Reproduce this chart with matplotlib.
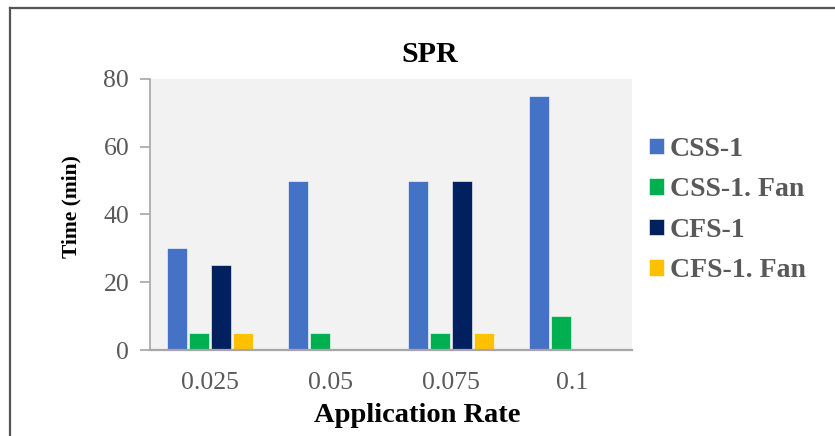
import numpy as np
import matplotlib.pyplot as plt
from matplotlib.lines import Line2D

rates = ["0.025", "0.05", "0.075", "0.1"]
seriesNames = ["CSS-1", "CSS-1. Fan", "CFS-1", "CFS-1. Fan"]
css1 = [30, 50, 50, 75]
css1Fan = [5, 5, 5, 10]
cfs1 = [25, 0, 50, 0]
cfs1Fan = [5, 0, 5, 0]
colors = ["#4472C4", "#00B050", "#002060", "#FFC000"]

plt.rcParams['font.family'] = ['Liberation Serif', 'DejaVu Serif']

fig = plt.figure(figsize=(8.35, 4.36), dpi=100)
ax = fig.add_axes([150 / 835, 86 / 436, 482 / 835, 271 / 436])
ax.set_facecolor("#F2F2F2")

x = np.arange(len(rates))
barWidth = 0.166
step = 0.1826
for i, (name, values) in enumerate(zip(seriesNames, [css1, css1Fan, cfs1, cfs1Fan])):
    offset = (i - 1.5) * step
    keep = [j for j, v in enumerate(values) if v > 0]
    ax.bar(x[keep] + offset, [values[j] for j in keep], barWidth,
           color=colors[i], edgecolor="#FFFFFF", linewidth=0.4, label=name)

ax.set_xlim(-0.5, 3.5)
ax.set_ylim(0, 80)
ax.set_yticks([0, 20, 40, 60, 80])
ax.set_xticks(x)
ax.set_xticklabels(rates)

for side in ["top", "right"]:
    ax.spines[side].set_visible(False)
ax.spines["left"].set_color("#A6A6A6")
ax.spines["left"].set_linewidth(1.2)
ax.spines["bottom"].set_color("#A6A6A6")
ax.spines["bottom"].set_linewidth(1.6)

ax.tick_params(axis="y", length=7, width=1.2, color="#A6A6A6", pad=8,
               labelsize=18.5, labelcolor="#595959")
ax.tick_params(axis="x", length=0, pad=16, labelsize=18.5, labelcolor="#595959")

ax.set_xlabel("Application Rate", fontsize=20.5, fontweight="bold", va="center")
ax.xaxis.set_label_coords(0.554, -0.24)
ax.set_ylabel("Time (min)", fontsize=15.5, fontweight="bold", va="center")
ax.yaxis.set_label_coords(-0.162, 0.528)

fig.text(0.515, 0.876, "SPR", ha="center", va="center", fontsize=21.5, fontweight="bold")

leg = fig.legend(loc="center left", bbox_to_anchor=(624 / 835, 1 - 210 / 436), frameon=False,
                 fontsize=20, handlelength=0.54, handleheight=0.54, handletextpad=0.22,
                 labelspacing=0.56)
for t in leg.get_texts():
    t.set_color("#595959")
    t.set_fontweight("bold")

# outer frame (top and left edges visible)
fig.add_artist(Line2D([10 / 835, 1], [1 - 8 / 436, 1 - 8 / 436], color="#555555", linewidth=1.6,
                      transform=fig.transFigure))
fig.add_artist(Line2D([10 / 835, 10 / 835], [0, 1 - 8 / 436], color="#555555", linewidth=1.6,
                      transform=fig.transFigure))

fig.savefig("out.png", dpi=100)
